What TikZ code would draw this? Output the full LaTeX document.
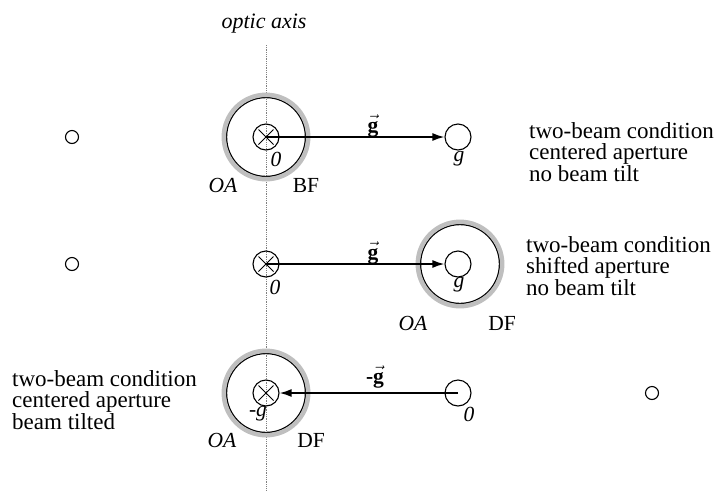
\documentclass[tikz,border=0pt]{standalone}
\usepackage{fontspec}
\setmainfont{Liberation Serif}
\usetikzlibrary{arrows.meta,calc}
\begin{document}
\begin{tikzpicture}[x=1pt,y=-1pt,
  spot/.style={circle,draw,line width=1.1pt,minimum size=26pt,inner sep=0pt},
  tinyspot/.style={circle,draw,line width=1.1pt,minimum size=13pt,inner sep=0pt},
  aperture/.style={circle,draw,line width=1.4pt,minimum size=79pt,inner sep=0pt},
  ring/.style={draw=gray!50,line width=4.5pt},
  crossline/.style={line width=0.9pt},
  beam/.style={line width=1.7pt,-{Latex[length=12pt,width=8pt]}},
  axisline/.style={gray,densely dotted,line width=0.8pt},
  lab/.style={font=\fontsize{21.5}{21.5}\selectfont,inner sep=0pt},
  itlab/.style={font=\fontsize{21.5}{21.5}\selectfont\itshape,inner sep=0pt},
  desc/.style={font=\fontsize{23}{21.5}\selectfont,inner sep=0pt,align=left,anchor=west}]
\useasboundingbox (0,0) rectangle (715,491);
% optic axis
\coordinate (axtop) at (266,45);
\coordinate (axbot) at (266,491);
\draw[axisline] (axtop) -- (axbot);
\node[lab,font=\fontsize{22}{22}\selectfont\itshape] (axlab) at (264,24) {optic axis};

% ---------- row 1 ----------
\node[tinyspot] (s1) at (72,137) {};
\node[aperture] (a1) at (266,137) {};
\draw[ring] (a1.center) circle (42.2);
\node[spot] (z1) at (266,137) {};
\draw[crossline] ($(z1.center)+(-7.5,-7.5)$) -- ($(z1.center)+(7.5,7.5)$);
\draw[crossline] ($(z1.center)+(-7.5,7.5)$) -- ($(z1.center)+(7.5,-7.5)$);
\node[spot] (g1) at (458,137) {};
\draw[beam] (z1.center) -- (g1.west);
\node[lab] (v1) at (373,126) {$\vec{\hbox{\bfseries g}}$};
\node[itlab] (o1) at (276,159) {0};
\node[itlab] (gl1) at (459,159) {g};
\node[itlab] (oa1) at (223,185) {OA};
\node[lab] (bf1) at (306,185) {BF};
\node[desc] (t1) at (529,152) {two-beam condition\\centered aperture\\no beam tilt};

% ---------- row 2 ----------
\node[tinyspot] (s2) at (72,264) {};
\node[spot] (z2) at (266,264) {};
\draw[crossline] ($(z2.center)+(-7.5,-7.5)$) -- ($(z2.center)+(7.5,7.5)$);
\draw[crossline] ($(z2.center)+(-7.5,7.5)$) -- ($(z2.center)+(7.5,-7.5)$);
\node[aperture] (a2) at (460,264) {};
\draw[ring] (a2.center) circle (42.2);
\node[spot] (g2) at (458,264) {};
\draw[beam] (z2.center) -- (g2.west);
\node[lab] (v2) at (373,253) {$\vec{\hbox{\bfseries g}}$};
\node[itlab] (o2) at (275,287) {0};
\node[itlab] (gl2) at (459,285) {g};
\node[itlab] (oa2) at (413,323) {OA};
\node[lab] (df2) at (502,323) {DF};
\node[desc] (t2) at (526,266) {two-beam condition\\shifted aperture\\no beam tilt};

% ---------- row 3 ----------
\node[aperture] (a3) at (266,393) {};
\draw[ring] (a3.center) circle (42.2);
\node[spot] (m3) at (266,393) {};
\draw[crossline] ($(m3.center)+(-7.5,-7.5)$) -- ($(m3.center)+(7.5,7.5)$);
\draw[crossline] ($(m3.center)+(-7.5,7.5)$) -- ($(m3.center)+(7.5,-7.5)$);
\node[spot] (z3) at (458,393) {};
\draw[beam] (z3.center) -- (m3.east);
\node[tinyspot] (s3) at (652,393) {};
\node[lab] (v3) at (375,377) {\bfseries -$\vec{\hbox{\bfseries g}}$};
\node[itlab] (mg3) at (258,414) {-g};
\node[itlab] (o3) at (469,414) {0};
\node[itlab] (oa3) at (222,440) {OA};
\node[lab] (df3) at (311,440) {DF};
\node[desc] (t3) at (12,400) {two-beam condition\\centered aperture\\beam tilted};
\end{tikzpicture}
\end{document}
